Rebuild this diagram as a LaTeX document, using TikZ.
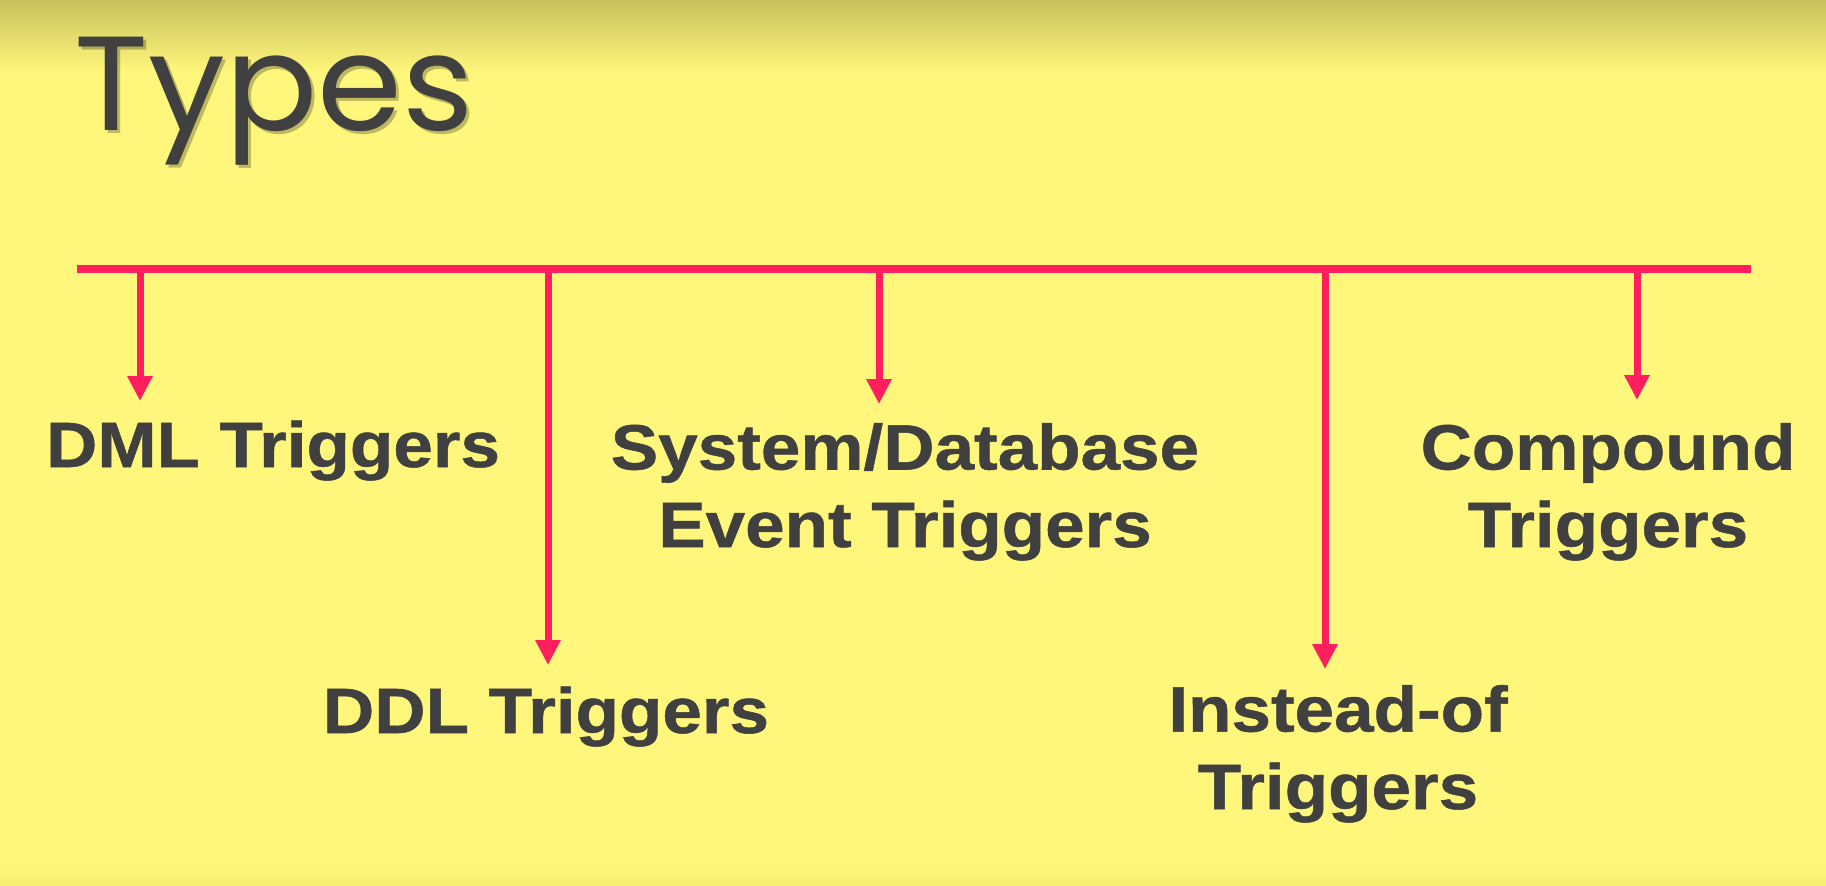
\documentclass[tikz,border=0pt]{standalone}
\usepackage{fontspec}
\usetikzlibrary{arrows.meta}
\newfontfamily\labfont{Liberation Sans}[FakeStretch=1.11,FakeBold=0.8]
\newfontfamily\titlefont{Poppins}[FakeStretch=1.02]
\definecolor{bg}{HTML}{FFF67C}
\definecolor{bgtop}{HTML}{C8C25C}
\definecolor{bgbot}{HTML}{F6EC72}
\definecolor{txt}{HTML}{404040}
\definecolor{arrowpink}{HTML}{FF1F5F}
\begin{document}
\begin{tikzpicture}[x=1pt,y=-1pt,
  lab/.style={font=\labfont\bfseries\fontsize{64}{77.5}\selectfont, text=txt, align=center, inner sep=0pt, anchor=base},
  ttl/.style={font=\titlefont\fontsize{134}{134}\selectfont, inner sep=0pt, anchor=base west},
  bar/.style={draw=arrowpink, line width=8.5pt},
  conn/.style={draw=arrowpink, line width=7pt, -{Triangle[length=25pt,width=24pt]}}]
\useasboundingbox (0,0) rectangle (1826,886);
\fill[bg] (0,0) rectangle (1826,886);
\shade[top color=bgtop, bottom color=bg] (0,0) rectangle (1826,72);
\shade[top color=bg, bottom color=bgbot] (0,866) rectangle (1826,886);
% title
\node (titleshadow) [ttl, text=black, opacity=0.25] at (77,133) {Types};
\node (title) [ttl, text=txt] at (74,130) {Types};
% labels (anchor = baseline of the last line)
\node (dml) [lab] at (273,467) {DML Triggers};
\node (ddl) [lab] at (546,733) {DDL Triggers};
\node (sys) [lab] at (905,547) {System/Database\\Event Triggers};
\node (inst) [lab] at (1338,809) {Instead-of\\Triggers};
\node (comp) [lab] at (1608,547) {Compound\\Triggers};
% bar
\coordinate (barL) at (77,269);
\coordinate (barR) at (1751,269);
\draw[bar] (barL) -- (barR);
% arrows
\coordinate (s1) at (140,269);  \coordinate (e1) at (140,401);
\coordinate (s2) at (548,269);  \coordinate (e2) at (548,665);
\coordinate (s3) at (879,269);  \coordinate (e3) at (879,404);
\coordinate (s4) at (1325,269); \coordinate (e4) at (1325,669);
\coordinate (s5) at (1637,269); \coordinate (e5) at (1637,400);
\draw[conn] (s1) -- (e1);
\draw[conn] (s2) -- (e2);
\draw[conn] (s3) -- (e3);
\draw[conn] (s4) -- (e4);
\draw[conn] (s5) -- (e5);
\end{tikzpicture}
\end{document}
